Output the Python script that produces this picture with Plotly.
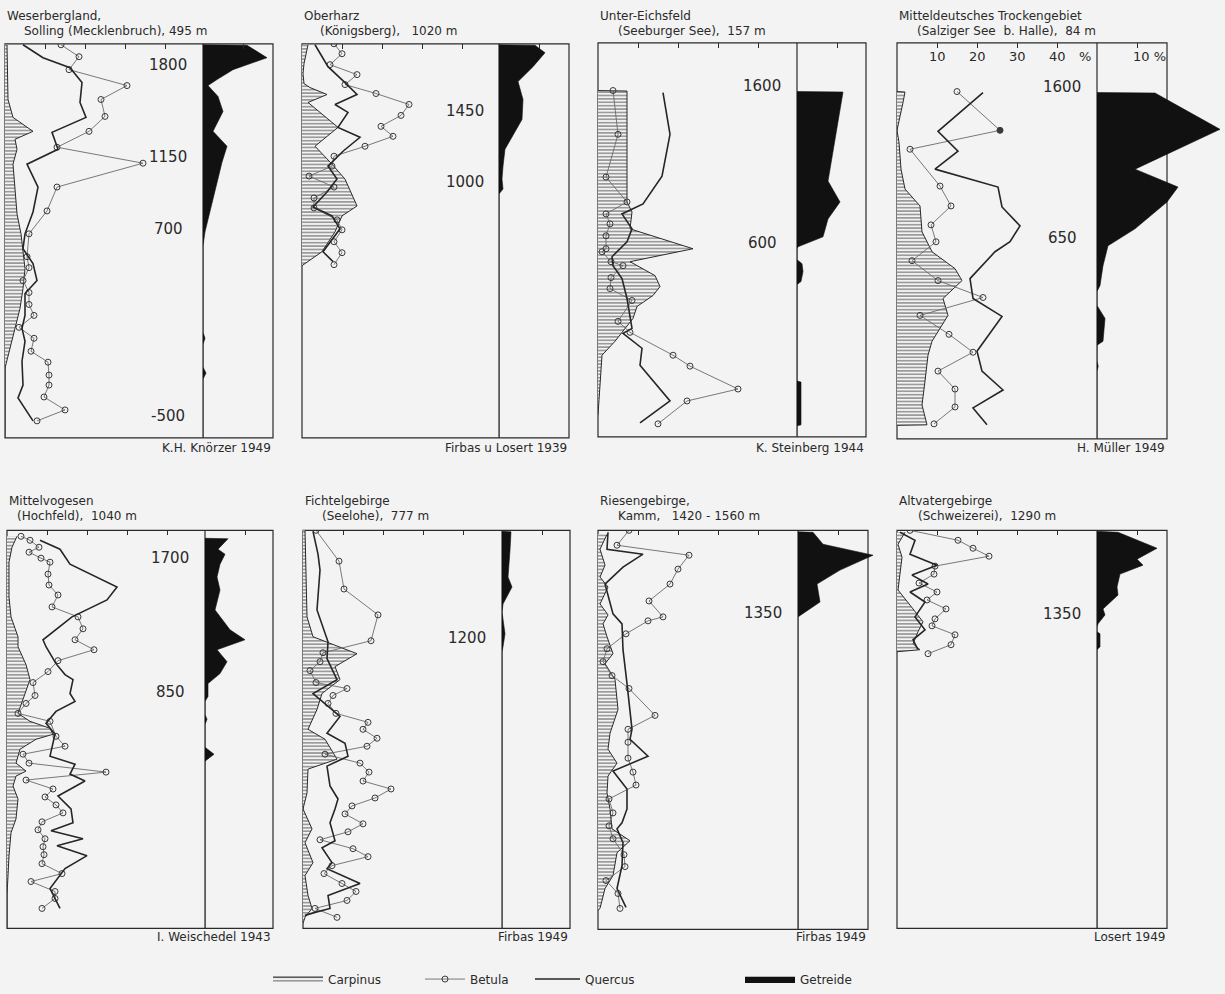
import plotly.graph_objects as go

# ------------------------------------------------------------------
# DATA  (depth = sample position down the core, pct = pollen %)
# ------------------------------------------------------------------
# Panel 1 : Weserbergland
p1_title = ["Weserbergland,", "Solling (Mecklenbruch), 495 m"]
p1_author = "K.H. Knörzer 1949"
p1_dates = ["1800", "1150", "700", "-500"]
p1_date_depth = [21, 114, 186, 374]
p1_carpinus_depth = [1, 56, 74, 88, 96, 106, 121, 146, 171, 191, 206, 226, 246, 266, 286, 301, 316, 326, 396]
p1_carpinus_pct = [0.5, 0.75, 2, 7, 2.5, 3, 2, 2.5, 3, 4, 4.5, 5, 4.5, 3.75, 2.5, 1.5, 0.5, 0, 0]
p1_betula_depth = [1, 13, 26, 42, 56, 73, 88, 104, 120, 144, 168, 191, 214, 225, 238, 250, 262, 273, 285, 296, 309, 320, 333, 343, 355, 368, 379]
p1_betula_pct = [14, 18.5, 16, 30.5, 24, 25, 21, 13, 34.5, 13, 10.5, 6, 5.5, 6, 4.5, 6, 6, 7.25, 3.5, 7.25, 6.5, 10.75, 11, 11, 9.75, 15, 8]
p1_quercus_depth = [1, 14, 24, 39, 59, 74, 89, 106, 121, 144, 169, 191, 206, 221, 238, 251, 273, 286, 299, 319, 343, 356, 379]
p1_quercus_pct = [4.5, 9.5, 16.25, 19.25, 18.75, 20.25, 11.75, 13.25, 5.5, 8.25, 7, 5, 4.5, 7, 8, 5, 5, 4.25, 5, 4.25, 4.5, 3.25, 7]
p1_getreide_depth = [1, 1.5, 14, 26, 36, 42, 53, 68, 88, 103, 119, 156, 189, 203, 290, 296, 302, 325, 331, 337, 396]
p1_getreide_pct = [0, 11, 16, 7.5, 3.5, 1.25, 3.75, 5, 2.5, 6, 4.75, 2.5, 0.5, 0, 0, 0.5, 0, 0, 0.75, 0, 0]

# Panel 2 : Oberharz
p2_title = ["Oberharz", "(Königsberg),\u00a0\u00a0\u00a01020 m"]
p2_author = "Firbas u Losert 1939"
p2_dates = ["1450", "1000"]
p2_date_depth = [68, 139]
p2_carpinus_depth = [1, 10, 20, 30, 40, 44, 51, 59, 84, 103, 121, 136, 163, 173, 189, 209, 223]
p2_carpinus_pct = [1.5, 1, 0.5, 0.25, 0.5, 2, 6.25, 1.5, 9, 3.25, 7.5, 10.75, 13.75, 10, 8.25, 5, 0]
p2_betula_depth = [0, 10, 21, 31, 41, 50, 61, 72, 83, 93, 103, 113, 123, 133, 144, 155, 165, 177, 187, 199, 210, 222]
p2_betula_pct = [8, 10, 7, 13.75, 10.75, 18.5, 26.75, 24.75, 19.75, 22.75, 15.75, 8, 7.5, 1.75, 8, 3, 3, 8.75, 10, 8, 10, 8]
p2_quercus_depth = [1, 23, 39, 51, 61, 69, 84, 94, 108, 123, 136, 149, 164, 173, 186, 209, 219]
p2_quercus_pct = [3.25, 6.5, 10.75, 13.75, 8.25, 11.5, 9, 14.5, 10.25, 6.5, 8.75, 6.25, 2.75, 7.5, 9.5, 5.25, 7.75]
p2_getreide_depth = [1, 1.5, 9, 23, 38, 56, 76, 89, 106, 123, 136, 146, 151, 396]
p2_getreide_pct = [0, 9, 11.5, 8.5, 4.75, 6, 5.75, 4, 1.5, 1, 0.75, 1, 0, 0]

# Panel 3 : Unter-Eichsfeld
p3_title = ["Unter-Eichsfeld", "(Seeburger See),\u00a0\u00a0157 m"]
p3_author = "K. Steinberg 1944"
p3_dates = ["1600", "600"]
p3_date_depth = [43, 201]
p3_carpinus_depth = [48, 48.5, 160, 170, 187, 207, 220, 234, 245, 254, 265, 277, 300, 314, 374]
p3_carpinus_pct = [0, 7.25, 7.25, 8.5, 8, 23.75, 8, 14.25, 15.5, 13.75, 9.75, 8.75, 4.25, 1, 0]
p3_betula_depth = [48, 92, 135, 160, 172, 182, 194, 207, 210, 220, 224, 236, 247, 259, 280, 291, 314, 325, 348, 360, 383]
p3_betula_pct = [3.75, 5, 2, 7.25, 2, 3, 2, 2, 1, 3.25, 6.25, 3.25, 3, 8.5, 5, 8, 18.75, 23, 35, 22.25, 15]
p3_quercus_depth = [50, 92, 134, 162, 172, 187, 200, 215, 224, 237, 257, 287, 292, 307, 324, 360, 382]
p3_quercus_pct = [16.25, 18, 16, 11.25, 6, 8.5, 7.25, 3.5, 3.75, 6, 7.25, 8.5, 6.25, 11, 10.5, 18, 10.5]
p3_getreide_depth = [49, 49.5, 139, 160, 177, 195, 205, 207, 218, 222, 230, 240, 243, 340, 341, 384, 385, 396]
p3_getreide_pct = [0, 11.5, 7.75, 10.75, 7.75, 6.5, 0.25, 0, 0, 1.25, 1.5, 1, 0, 0, 1, 1, 0, 0]

# Panel 4 : Mitteldeutsches Trockengebiet
p4_title = ["Mitteldeutsches Trockengebiet", "(Salziger See\u00a0\u00a0b. Halle),\u00a0\u00a084 m"]
p4_author = "H. Müller 1949"
p4_dates = ["1600", "650"]
p4_date_depth = [44, 196]
p4_carpinus_depth = [49, 49.5, 60, 88, 100, 127, 147, 164, 190, 210, 227, 239, 257, 274, 300, 314, 340, 364, 384, 384.5]
p4_carpinus_pct = [0, 2, 1.5, 0, 0.5, 1, 2, 5.75, 6.25, 8.75, 14.5, 16.25, 11.5, 12.75, 8.75, 7.75, 7, 6.25, 7.5, 0]
p4_betula_depth = [49, 88, 107, 144, 164, 183, 200, 219, 239, 256, 274, 293, 311, 330, 348, 366, 383]
p4_betula_pct = [15, 25.75, 3.25, 10.75, 13.5, 8.5, 9.75, 3.75, 10.25, 21.5, 5.75, 13, 19, 10.25, 14.5, 14.5, 9.25]
p4_quercus_depth = [50, 89, 109, 127, 145, 165, 184, 200, 210, 237, 257, 275, 310, 330, 349, 367, 384]
p4_quercus_pct = [21.5, 10.25, 15.25, 9.5, 25.25, 26.25, 30.75, 28.25, 24.5, 18.25, 19, 26.25, 20, 21.25, 26.5, 19, 22.5]
p4_getreide_depth = [50, 50.5, 87, 127, 145, 160, 187, 204, 224, 244, 250, 264, 277, 300, 304, 320, 325, 330, 398]
p4_getreide_pct = [0, 14.5, 30.75, 9.5, 20.25, 17.5, 9.5, 2.75, 1.5, 0.75, 0, 0, 2, 1.5, 0, 0, 0.3, 0, 0]

# Panel 5 : Mittelvogesen
p5_title = ["Mittelvogesen", "(Hochfeld),\u00a0\u00a01040 m"]
p5_author = "I. Weischedel 1943"
p5_dates = ["1700", "850"]
p5_date_depth = [28, 162]
p5_carpinus_depth = [6, 17, 32, 67, 87, 107, 117, 135, 150, 170, 184, 192, 199, 205, 210, 220, 234, 242, 247, 257, 270, 290, 304, 327, 347, 367, 400]
p5_carpinus_pct = [2.5, 1.25, 0.5, 0.5, 1, 2.75, 2.75, 4.75, 5.75, 4, 2.75, 5.75, 10.75, 11.5, 7.25, 3.25, 2.25, 4.75, 2.25, 1.5, 2.75, 2.25, 1, 0.5, 0.25, 0, 0]
p5_betula_depth = [6, 10, 17, 22, 28, 32, 44, 55, 65, 77, 87, 99, 110, 120, 131, 142, 153, 166, 174, 184, 192, 207, 217, 225, 234, 243, 251, 260, 268, 276, 284, 293, 301, 310, 318, 326, 335, 345, 353, 363, 370, 380]
p5_betula_pct = [3.5, 5.75, 8, 5.5, 8.5, 10.75, 10.25, 10.5, 12.75, 11.25, 17.75, 19, 17, 21.75, 12.75, 10.25, 6.5, 7, 4.75, 2.75, 10.75, 12.25, 14.5, 4, 5.5, 24.75, 4.75, 11.5, 9.5, 12.25, 14, 8.75, 7.75, 9.5, 9, 9.25, 8.75, 13.75, 6, 12, 12, 8.75]
p5_quercus_depth = [10, 19, 34, 57, 70, 87, 110, 117, 134, 145, 150, 164, 172, 182, 194, 205, 227, 235, 245, 252, 267, 280, 294, 302, 310, 317, 327, 340, 360, 380]
p5_quercus_pct = [8.25, 13.25, 15.75, 27.5, 25, 16.25, 9, 9.75, 12.25, 14.5, 16.5, 15.75, 17, 12.25, 9.75, 12, 10.75, 17, 15.75, 19.5, 12.75, 16, 16.5, 11, 19, 12.5, 20, 14.5, 10.75, 13.25]
p5_getreide_depth = [8, 8.5, 19, 24, 34, 47, 60, 80, 100, 110, 120, 132, 144, 154, 167, 172, 185, 190, 195, 218, 225, 232, 400]
p5_getreide_pct = [0, 5.75, 3.25, 5, 3.75, 3, 3.75, 2.5, 6.25, 10, 3, 5.5, 3.75, 0.75, 0.75, 0, 0, 0.5, 0, 0, 2.25, 0, 0]

# Panel 6 : Fichtelgebirge
p6_title = ["Fichtelgebirge", "(Seelohe),\u00a0\u00a0777 m"]
p6_author = "Firbas 1949"
p6_dates = ["1200"]
p6_date_depth = [108]
p6_carpinus_depth = [0, 60, 87, 107, 124, 137, 150, 164, 180, 200, 210, 230, 240, 264, 280, 300, 314, 334, 347, 367, 380, 389, 395]
p6_carpinus_pct = [0.5, 0.75, 1, 2.5, 13.5, 8, 9.25, 4.75, 3.5, 1.25, 5.5, 8.5, 1.25, 1, 0, 2.25, 0.5, 2.5, 0.5, 1.25, 2.25, 0.5, 0]
p6_betula_depth = [0, 31, 59, 85, 111, 123, 132, 141, 153, 159, 166, 174, 184, 193, 200, 209, 217, 225, 234, 243, 252, 260, 269, 277, 285, 295, 303, 311, 320, 328, 337, 345, 355, 363, 372, 380, 389]
p6_betula_pct = [3.25, 9, 10.25, 18.75, 17, 5, 4.25, 1.75, 3.25, 11, 7.5, 6.25, 8.25, 16.25, 15, 18.5, 16, 5.5, 14.25, 16.5, 15, 22, 18, 12.25, 10.5, 15, 11.25, 4.25, 12.5, 16.25, 7.25, 5.25, 9.75, 13.25, 11, 3, 8.5]
p6_quercus_depth = [1, 24, 40, 80, 112, 129, 150, 164, 187, 204, 214, 227, 237, 257, 270, 280, 294, 312, 319, 334, 340, 355, 367, 380, 384, 387]
p6_quercus_pct = [2.5, 3.75, 4.25, 3.5, 6.25, 6, 8.5, 2.5, 9.25, 6, 10.5, 11.25, 6, 6.75, 8.75, 8, 6.75, 8, 4.75, 7.25, 6, 14.25, 6.25, 6.75, 3, 0.5]
p6_getreide_depth = [1, 1.5, 20, 47, 57, 74, 82, 100, 104, 117, 122, 400]
p6_getreide_pct = [0, 2.25, 2, 1.5, 2.5, 0.25, 0, 0.5, 0.75, 0.25, 0, 0]

# Panel 7 : Riesengebirge
p7_title = ["Riesengebirge,", "Kamm,\u00a0\u00a0\u00a01420 - 1560 m"]
p7_author = "Firbas 1949"
p7_dates = ["1350"]
p7_date_depth = [83]
p7_carpinus_depth = [4, 19, 35, 47, 57, 74, 85, 94, 107, 124, 134, 150, 180, 204, 220, 234, 247, 264, 280, 300, 312, 324, 347, 360, 380, 382]
p7_carpinus_pct = [2.25, 0.5, 1.75, 0.5, 2.5, 0.5, 2.5, 1.25, 2.25, 3.75, 1.75, 4.25, 5, 3, 2.5, 4.75, 2.5, 2.25, 3, 3.5, 8, 4.75, 3.75, 1.75, 0.5, 0]
p7_betula_depth = [0, 15, 25, 39, 54, 71, 87, 91, 104, 119, 132, 146, 159, 186, 200, 213, 229, 243, 256, 270, 284, 297, 310, 326, 338, 352, 365, 380]
p7_betula_pct = [7.75, 4.75, 22.75, 20, 18, 12.75, 16.25, 12.5, 7, 2.25, 1.25, 3.5, 7.75, 14.25, 7.5, 7.5, 7.5, 8.75, 9.5, 2.75, 3.75, 2.75, 3.75, 6.5, 6.75, 2, 5, 5.5]
p7_quercus_depth = [2, 19, 24, 37, 54, 84, 94, 120, 154, 200, 210, 227, 242, 260, 280, 294, 300, 314, 337, 360, 379]
p7_quercus_pct = [2.5, 2.25, 11.25, 6.25, 1.75, 3.75, 6, 6.25, 7.25, 8.5, 8, 12.5, 3.75, 7.25, 7.25, 6, 4.75, 6.25, 6, 4.75, 7]
p7_getreide_depth = [1.5, 2, 14, 25, 40, 54, 72, 87, 400]
p7_getreide_pct = [0, 3.75, 6.25, 18.75, 10.5, 4.75, 5.5, 0, 0]

# Panel 8 : Altvatergebirge
p8_title = ["Altvatergebirge", "(Schweizerei),\u00a0\u00a01290 m"]
p8_author = "Losert 1949"
p8_dates = ["1350"]
p8_date_depth = [84]
p8_carpinus_depth = [2, 14, 27, 44, 60, 79, 92, 102, 114, 120, 122]
p8_carpinus_pct = [2, 0.25, 1.25, 0.75, 0.25, 4, 6.5, 5.25, 4, 5.75, 0]
p8_betula_depth = [0, 10, 18, 26, 36, 44, 53, 62, 70, 79, 89, 96, 105, 115, 124]
p8_betula_pct = [3.25, 15.25, 19, 23, 9.5, 9.25, 5.5, 10, 7.5, 12.25, 9.5, 8.75, 14.5, 13.5, 7.75]
p8_quercus_depth = [2, 10, 24, 35, 45, 54, 62, 72, 87, 100, 110, 120]
p8_quercus_pct = [0.75, 4.5, 3.25, 10, 3.75, 7.75, 3.25, 7, 4.5, 7, 4, 5.25]
p8_getreide_depth = [1, 2, 18, 29, 35, 44, 57, 65, 79, 85, 94, 97, 102, 104, 117, 120, 400]
p8_getreide_pct = [0, 5.25, 15, 10, 11.5, 5.75, 5, 5.25, 1.5, 2, 0.25, 0, 0, 0.75, 0.75, 0, 0]

series_names = ["Carpinus", "Betula", "Quercus", "Getreide"]
tree_ticks = [10, 20, 30, 40]
cereal_ticks = [10]

panels = [
    dict(title=p1_title, author=p1_author, dates=p1_dates, date_depth=p1_date_depth,
         carpinus=(p1_carpinus_depth, p1_carpinus_pct), betula=(p1_betula_depth, p1_betula_pct),
         quercus=(p1_quercus_depth, p1_quercus_pct), getreide=(p1_getreide_depth, p1_getreide_pct)),
    dict(title=p2_title, author=p2_author, dates=p2_dates, date_depth=p2_date_depth,
         carpinus=(p2_carpinus_depth, p2_carpinus_pct), betula=(p2_betula_depth, p2_betula_pct),
         quercus=(p2_quercus_depth, p2_quercus_pct), getreide=(p2_getreide_depth, p2_getreide_pct)),
    dict(title=p3_title, author=p3_author, dates=p3_dates, date_depth=p3_date_depth,
         carpinus=(p3_carpinus_depth, p3_carpinus_pct), betula=(p3_betula_depth, p3_betula_pct),
         quercus=(p3_quercus_depth, p3_quercus_pct), getreide=(p3_getreide_depth, p3_getreide_pct)),
    dict(title=p4_title, author=p4_author, dates=p4_dates, date_depth=p4_date_depth,
         carpinus=(p4_carpinus_depth, p4_carpinus_pct), betula=(p4_betula_depth, p4_betula_pct),
         quercus=(p4_quercus_depth, p4_quercus_pct), getreide=(p4_getreide_depth, p4_getreide_pct)),
    dict(title=p5_title, author=p5_author, dates=p5_dates, date_depth=p5_date_depth,
         carpinus=(p5_carpinus_depth, p5_carpinus_pct), betula=(p5_betula_depth, p5_betula_pct),
         quercus=(p5_quercus_depth, p5_quercus_pct), getreide=(p5_getreide_depth, p5_getreide_pct)),
    dict(title=p6_title, author=p6_author, dates=p6_dates, date_depth=p6_date_depth,
         carpinus=(p6_carpinus_depth, p6_carpinus_pct), betula=(p6_betula_depth, p6_betula_pct),
         quercus=(p6_quercus_depth, p6_quercus_pct), getreide=(p6_getreide_depth, p6_getreide_pct)),
    dict(title=p7_title, author=p7_author, dates=p7_dates, date_depth=p7_date_depth,
         carpinus=(p7_carpinus_depth, p7_carpinus_pct), betula=(p7_betula_depth, p7_betula_pct),
         quercus=(p7_quercus_depth, p7_quercus_pct), getreide=(p7_getreide_depth, p7_getreide_pct)),
    dict(title=p8_title, author=p8_author, dates=p8_dates, date_depth=p8_date_depth,
         carpinus=(p8_carpinus_depth, p8_carpinus_pct), betula=(p8_betula_depth, p8_betula_pct),
         quercus=(p8_quercus_depth, p8_quercus_pct), getreide=(p8_getreide_depth, p8_getreide_pct)),
]

# ------------------------------------------------------------------
# LAYOUT / STYLE (pixel geometry of each panel frame)
# left edge, divider, right edge, top, bottom, cereal-axis extent
# ------------------------------------------------------------------
W, H = 1225, 994
FONT = "DejaVu Sans"
INK = "#2a2a2a"
BG = "#f3f3f3"
PX_PER_PCT = 4.0
geom = [
    (5, 203, 273, 44, 440, 90),
    (302, 499, 569, 44, 440, 90),
    (598, 797, 866, 43, 439, 90),
    (897, 1097, 1167, 43, 441, 126),
    (7, 205, 273, 533, 933, 90),
    (303, 502, 570, 533, 933, 90),
    (598, 798, 868, 533, 934, 90),
    (897, 1097, 1167, 533, 933, 90),
]
title_rows = [(16, 31), (16, 31), (16, 31), (16, 31), (504, 519), (504, 519), (504, 519), (504, 519)]
author_rows = [450, 450, 450, 450, 942, 942, 942, 942]
title_indent = [17, 16, 18, 18, 8, 17, 18, 19]


def ref(kind, n):
    return kind if n == 1 else f"{kind}{n}"


fig = go.Figure()
layout = {}
shapes = []
annotations = []

for i, (p, g) in enumerate(zip(panels, geom)):
    left, div, right, top, bottom, ext = g
    xl, xr, yn = 2 * i + 1, 2 * i + 2, i + 1
    xa_l, xa_r, ya = ref("x", xl), ref("x", xr), ref("y", yn)
    depth_span = bottom - top
    first = (i == 0)

    # Carpinus (hatched area)
    d, v = p["carpinus"]
    fig.add_trace(go.Scatter(
        x=v, y=d, xaxis=xa_l, yaxis=ya, mode="lines", name=series_names[0],
        fill="tozerox", line=dict(color=INK, width=1),
        fillpattern=dict(shape="-", size=3.4, solidity=0.45, fgcolor="#303030", bgcolor=BG),
        showlegend=first, legend="legend", hoverinfo="skip"))
    # Betula (open circles)
    d, v = p["betula"]
    symbols = ["circle-open"] * len(d)
    if i == 3:
        symbols[1] = "circle"
    fig.add_trace(go.Scatter(
        x=v, y=d, xaxis=xa_l, yaxis=ya, mode="lines+markers", name=series_names[1],
        line=dict(color="#6a6a6a", width=0.9),
        marker=dict(symbol=symbols, size=6, color="#3a3a3a", line=dict(width=1, color="#3a3a3a")),
        showlegend=first, legend="legend2", hoverinfo="skip"))
    # Quercus (solid line)
    d, v = p["quercus"]
    fig.add_trace(go.Scatter(
        x=v, y=d, xaxis=xa_l, yaxis=ya, mode="lines", name=series_names[2],
        line=dict(color="#262626", width=1.6),
        showlegend=first, legend="legend3", hoverinfo="skip"))
    # Getreide (black silhouette)
    d, v = p["getreide"]
    fig.add_trace(go.Scatter(
        x=v, y=d, xaxis=xa_r, yaxis=ya, mode="lines", name=series_names[3],
        fill="tozerox", fillcolor="#111111", line=dict(color="#111111", width=0.6),
        showlegend=first, legend="legend4", hoverinfo="skip"))

    ydom = [1 - bottom / H, 1 - top / H]
    common = dict(showgrid=False, zeroline=False, showline=False, fixedrange=True,
                  showticklabels=False, side="top", ticks="inside", ticklen=5,
                  tickwidth=1, tickcolor=INK)
    layout[ref("xaxis", xl)] = dict(domain=[left / W, div / W], range=[0, (div - left) / PX_PER_PCT],
                                    anchor=ya, tickvals=tree_ticks, **common)
    layout[ref("xaxis", xr)] = dict(domain=[div / W, (div + ext) / W], range=[0, ext / PX_PER_PCT],
                                    anchor=ya, tickvals=cereal_ticks, **common)
    layout[ref("yaxis", yn)] = dict(domain=ydom, range=[depth_span, 0], visible=False,
                                    anchor=xa_l, fixedrange=True)

    # frame and divider
    shapes.append(dict(type="rect", xref="paper", yref="paper", x0=left / W, x1=right / W,
                       y0=ydom[0], y1=ydom[1], line=dict(color=INK, width=1.2), layer="below"))
    shapes.append(dict(type="line", xref="paper", yref="paper", x0=div / W, x1=div / W,
                       y0=ydom[0], y1=ydom[1], line=dict(color=INK, width=1.2), layer="below"))

    # titles
    t1, t2 = title_rows[i]
    annotations.append(dict(text=p["title"][0], xref="paper", yref="paper", x=left / W, y=1 - t1 / H,
                            xanchor="left", yanchor="middle", showarrow=False,
                            font=dict(family=FONT, size=12, color=INK)))
    annotations.append(dict(text=p["title"][1], xref="paper", yref="paper",
                            x=(left + title_indent[i]) / W, y=1 - t2 / H,
                            xanchor="left", yanchor="middle", showarrow=False,
                            font=dict(family=FONT, size=12, color=INK)))
    # author
    annotations.append(dict(text=p["author"], xref="paper", yref="paper", x=right / W,
                            y=1 - author_rows[i] / H, xanchor="right", yanchor="middle",
                            showarrow=False, font=dict(family=FONT, size=12, color=INK)))
    # dates
    for lab, dd in zip(p["dates"], p["date_depth"]):
        annotations.append(dict(text=lab, xref=f"{xa_l} domain", yref=ya, x=0.825, y=dd,
                                xanchor="center", yanchor="middle", showarrow=False,
                                font=dict(family=FONT, size=15, color=INK)))

# percentage scale labels on panel 4
for t in tree_ticks:
    annotations.append(dict(text=str(t), xref="x7", yref="y4 domain", x=t, y=1, yshift=-4,
                            xanchor="center", yanchor="top", showarrow=False,
                            font=dict(family=FONT, size=13, color=INK)))
annotations.append(dict(text="%", xref="x7", yref="y4 domain", x=47, y=1, yshift=-4,
                        xanchor="center", yanchor="top", showarrow=False,
                        font=dict(family=FONT, size=13, color=INK)))
annotations.append(dict(text="10 %", xref="x8", yref="y4 domain", x=13, y=1, yshift=-4,
                        xanchor="center", yanchor="top", showarrow=False,
                        font=dict(family=FONT, size=13, color=INK)))

leg_y = 1 - 984 / H
leg_common = dict(orientation="h", yanchor="middle", xanchor="left", y=leg_y,
                  bgcolor="rgba(0,0,0,0)", font=dict(family=FONT, size=12, color=INK))

fig.update_layout(
    width=W, height=H,
    margin=dict(l=0, r=0, t=0, b=0),
    paper_bgcolor=BG, plot_bgcolor="rgba(0,0,0,0)",
    font=dict(family=FONT, size=12, color=INK),
    shapes=shapes, annotations=annotations,
    legend=dict(x=268 / W, itemwidth=50, **leg_common),
    legend2=dict(x=420 / W, itemwidth=40, **leg_common),
    legend3=dict(x=530 / W, itemwidth=45, **leg_common),
    legend4=dict(x=740 / W, itemwidth=50, **leg_common),
    **layout,
)

fig.write_html("out.html",
               config={"displayModeBar": False},
               post_script="document.body.style.margin='0';document.body.style.background='#f3f3f3';")
